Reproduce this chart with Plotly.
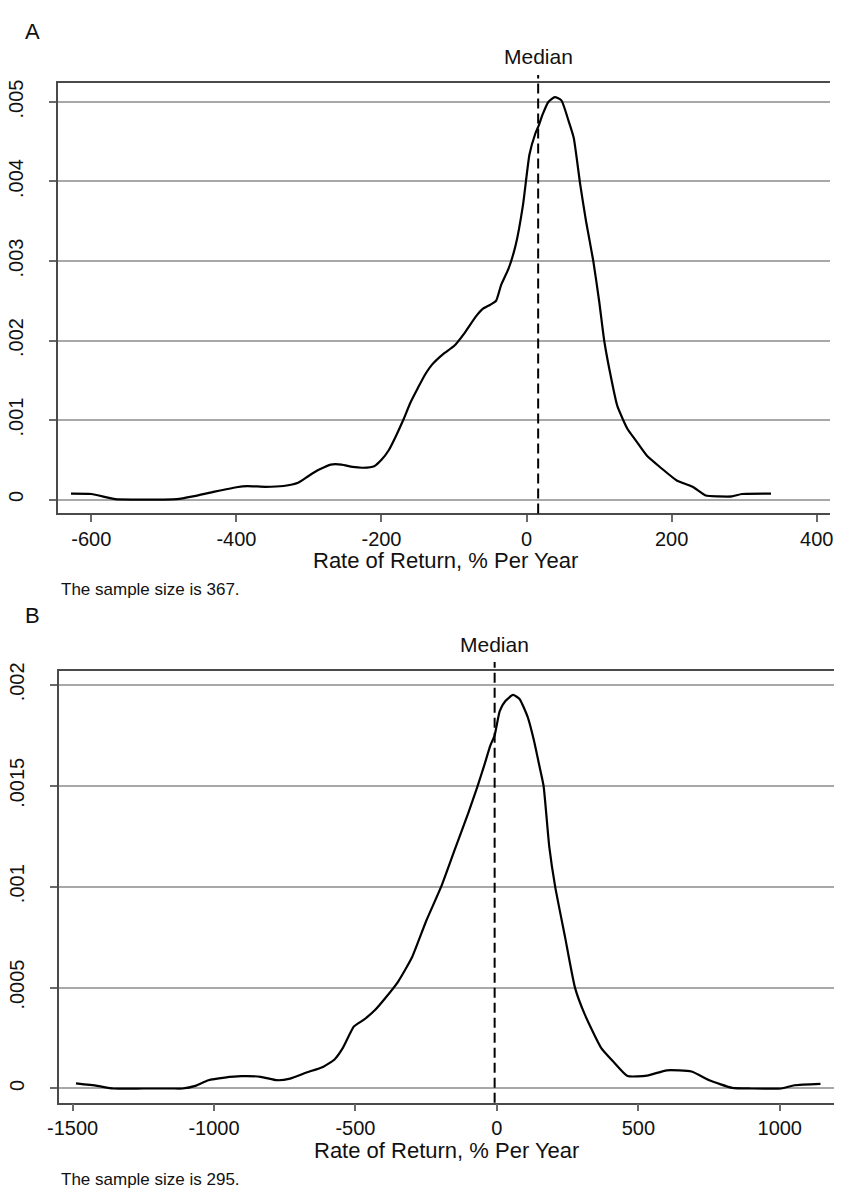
import plotly.graph_objects as go

W, H = 841, 1192

# ---------------- data ----------------
# Panel A: kernel density of rate of return (% per year), n = 367
ret_a = [-628, -600, -567, -540, -500, -482, -460, -430, -400, -385, -360, -335, -315, -300,
         -285, -270, -255, -240, -225, -210, -200, -190, -180, -170, -160, -150, -140, -130,
         -115, -100, -85, -70, -60, -50, -42, -35, -25, -15, -5, 4, 12, 17, 22, 30, 39, 48,
         58, 65, 74, 82, 92, 100, 107, 115, 125, 139, 150, 166, 185, 207, 229, 247, 265, 283,
         297, 337]
dens_a = [0.000075, 0.00007, 0.000005, 0.0, 0.0, 0.000005, 0.00004, 0.0001, 0.000155, 0.00017,
          0.00016, 0.00017, 0.00021, 0.0003, 0.00038, 0.00044, 0.00044, 0.00041, 0.0004, 0.00042,
          0.0005, 0.00062, 0.0008, 0.001, 0.00122, 0.0014, 0.00157, 0.0017, 0.00183, 0.00193,
          0.0021, 0.0023, 0.0024, 0.00245, 0.0025, 0.0027, 0.0029, 0.0032, 0.0037, 0.00434,
          0.0046, 0.00471, 0.00484, 0.005, 0.00506, 0.00502, 0.00476, 0.00455, 0.00396, 0.0035,
          0.003, 0.0025, 0.002, 0.0016, 0.00118, 0.00089, 0.00075, 0.00055, 0.0004, 0.00024,
          0.00016, 0.00005, 0.00004, 0.00004, 0.00007, 0.000075]
median_a = 16
xticks_a = [-600, -400, -200, 0, 200, 400]
xlabels_a = ["-600", "-400", "-200", "0", "200", "400"]
yticks_a = [0, 0.001, 0.002, 0.003, 0.004, 0.005]
ylabels_a = ["0", ".001", ".002", ".003", ".004", ".005"]
caption_a = "The sample size is 367."

# Panel B: n = 295
ret_b = [-1488, -1413, -1356, -1250, -1150, -1112, -1066, -1020, -962, -904, -835, -777, -731,
         -673, -615, -574, -545, -505, -470, -430, -395, -349, -300, -250, -197, -150, -100,
         -68, -45, -23, -8, 10, 30, 57, 80, 109, 130, 150, 165, 185, 206, 241, 276, 311, 369,
         415, 462, 531, 601, 688, 751, 832, 900, 1005, 1052, 1144]
dens_b = [0.000025, 0.000013, 0.0, 0.0, 0.0, 0.0, 0.000013, 0.000041, 0.000054, 0.000061,
          0.000058, 0.000041, 0.000049, 0.000079, 0.000107, 0.000144, 0.0002, 0.000308,
          0.000341, 0.00039, 0.000447, 0.00053, 0.00065, 0.00083, 0.001, 0.00118, 0.00137,
          0.0015, 0.0016, 0.0017, 0.00175, 0.00187, 0.00192, 0.00195, 0.00193, 0.00184,
          0.00173, 0.0016, 0.0015, 0.0012, 0.001, 0.00075, 0.0005, 0.000366, 0.0002, 0.000128,
          0.000062, 0.000064, 0.00009, 0.000084, 0.000041, 0.000003, 0.0, 0.0, 0.000016,
          0.000023]
median_b = -8
xticks_b = [-1500, -1000, -500, 0, 500, 1000]
xlabels_b = ["-1500", "-1000", "-500", "0", "500", "1000"]
yticks_b = [0, 0.0005, 0.001, 0.0015, 0.002]
ylabels_b = ["0", ".0005", ".001", ".0015", ".002"]
caption_b = "The sample size is 295."

x_title = "Rate of Return, % Per Year"

# ---------------- styling helpers ----------------
FONT = "Liberation Sans, Arial, sans-serif"
AXIS_COL = "#4a4a4a"
GRID_COL = "#a8a8a8"
TICK_COL = "#6a6a6a"


def px_x(p):
    return p / W


def px_y(p):
    return 1 - p / H


fig = go.Figure()
fig.add_trace(go.Scatter(x=ret_a, y=dens_a, mode="lines", xaxis="x", yaxis="y",
                         line=dict(color="black", width=2.2, shape="spline", smoothing=0.5),
                         showlegend=False, hoverinfo="skip"))
fig.add_trace(go.Scatter(x=ret_b, y=dens_b, mode="lines", xaxis="x2", yaxis="y2",
                         line=dict(color="black", width=2.2, shape="spline", smoothing=0.5),
                         showlegend=False, hoverinfo="skip"))

common_x = dict(ticks="outside", ticklen=7, tickwidth=1.5, tickcolor=TICK_COL,
                showline=True, linecolor=AXIS_COL, linewidth=1.5, mirror=True,
                showgrid=False, zeroline=False,
                tickfont=dict(family=FONT, size=20, color="#111"),
                ticklabelstandoff=0)
common_y = dict(ticks="outside", ticklen=7, tickwidth=1.5, tickcolor=TICK_COL,
                showline=True, linecolor=AXIS_COL, linewidth=1.5, mirror=False,
                showgrid=True, gridcolor=GRID_COL, gridwidth=1.5, zeroline=False,
                tickangle=-90, tickfont=dict(family=FONT, size=20, color="#111"),
                ticklabelstandoff=18)

# panel geometry (pixels)
A_left, A_right, A_top, A_bot = 47, 833, 75, 508.3
B_left, B_right, B_top, B_bot = 48, 836.7, 667.3, 1102

fig.update_layout(
    width=W, height=H, margin=dict(l=0, r=0, t=0, b=0),
    paper_bgcolor="white", plot_bgcolor="white", showlegend=False,
    xaxis=dict(domain=[px_x(A_left), px_x(A_right)], anchor="y",
               range=[-645.7, 418.5], tickvals=xticks_a, ticktext=xlabels_a, **common_x),
    yaxis=dict(domain=[px_y(A_bot), px_y(A_top)], anchor="x",
               range=[-0.000175, 0.005233], tickvals=yticks_a, ticktext=ylabels_a, **common_y),
    xaxis2=dict(domain=[px_x(B_left), px_x(B_right)], anchor="y2",
                range=[-1547.6, 1191], tickvals=xticks_b, ticktext=xlabels_b, **common_x),
    yaxis2=dict(domain=[px_y(B_bot), px_y(B_top)], anchor="x2",
                range=[-0.0000703, 0.0020674], tickvals=yticks_b, ticktext=ylabels_b, **common_y),
)

# median dashed lines
fig.add_shape(type="line", xref="x", yref="paper", x0=median_a, x1=median_a,
              y0=px_y(A_bot), y1=px_y(66.5),
              line=dict(color="black", width=2, dash="10px,5px"))
fig.add_shape(type="line", xref="x2", yref="paper", x0=median_b, x1=median_b,
              y0=px_y(B_bot), y1=px_y(658),
              line=dict(color="black", width=2, dash="10px,5px"))

ann = []
ann.append(dict(text="Median", xref="x", yref="paper", x=median_a, y=px_y(48),
                showarrow=False, font=dict(family=FONT, size=21, color="#111"),
                xanchor="center", yanchor="middle"))
ann.append(dict(text="Median", xref="x2", yref="paper", x=median_b, y=px_y(640),
                showarrow=False, font=dict(family=FONT, size=21, color="#111"),
                xanchor="center", yanchor="middle"))
ann.append(dict(text=x_title, xref="paper", yref="paper", x=px_x(441), y=px_y(556),
                showarrow=False, font=dict(family=FONT, size=22, color="#111"),
                xanchor="center", yanchor="middle"))
ann.append(dict(text=x_title, xref="paper", yref="paper", x=px_x(442.5), y=px_y(1150),
                showarrow=False, font=dict(family=FONT, size=22, color="#111"),
                xanchor="center", yanchor="middle"))
ann.append(dict(text=caption_a, xref="paper", yref="paper", x=px_x(48), y=px_y(585),
                showarrow=False, font=dict(family=FONT, size=17, color="#111"),
                xanchor="left", yanchor="middle"))
ann.append(dict(text=caption_b, xref="paper", yref="paper", x=px_x(48), y=px_y(1179),
                showarrow=False, font=dict(family=FONT, size=17, color="#111"),
                xanchor="left", yanchor="middle"))
ann.append(dict(text="A", xref="paper", yref="paper", x=px_x(20.5), y=px_y(22.5),
                showarrow=False, font=dict(family=FONT, size=22, color="#111"),
                xanchor="center", yanchor="middle"))
ann.append(dict(text="B", xref="paper", yref="paper", x=px_x(21), y=px_y(611.5),
                showarrow=False, font=dict(family=FONT, size=22, color="#111"),
                xanchor="center", yanchor="middle"))
fig.update_layout(annotations=ann)

fig.write_html("out.html")
